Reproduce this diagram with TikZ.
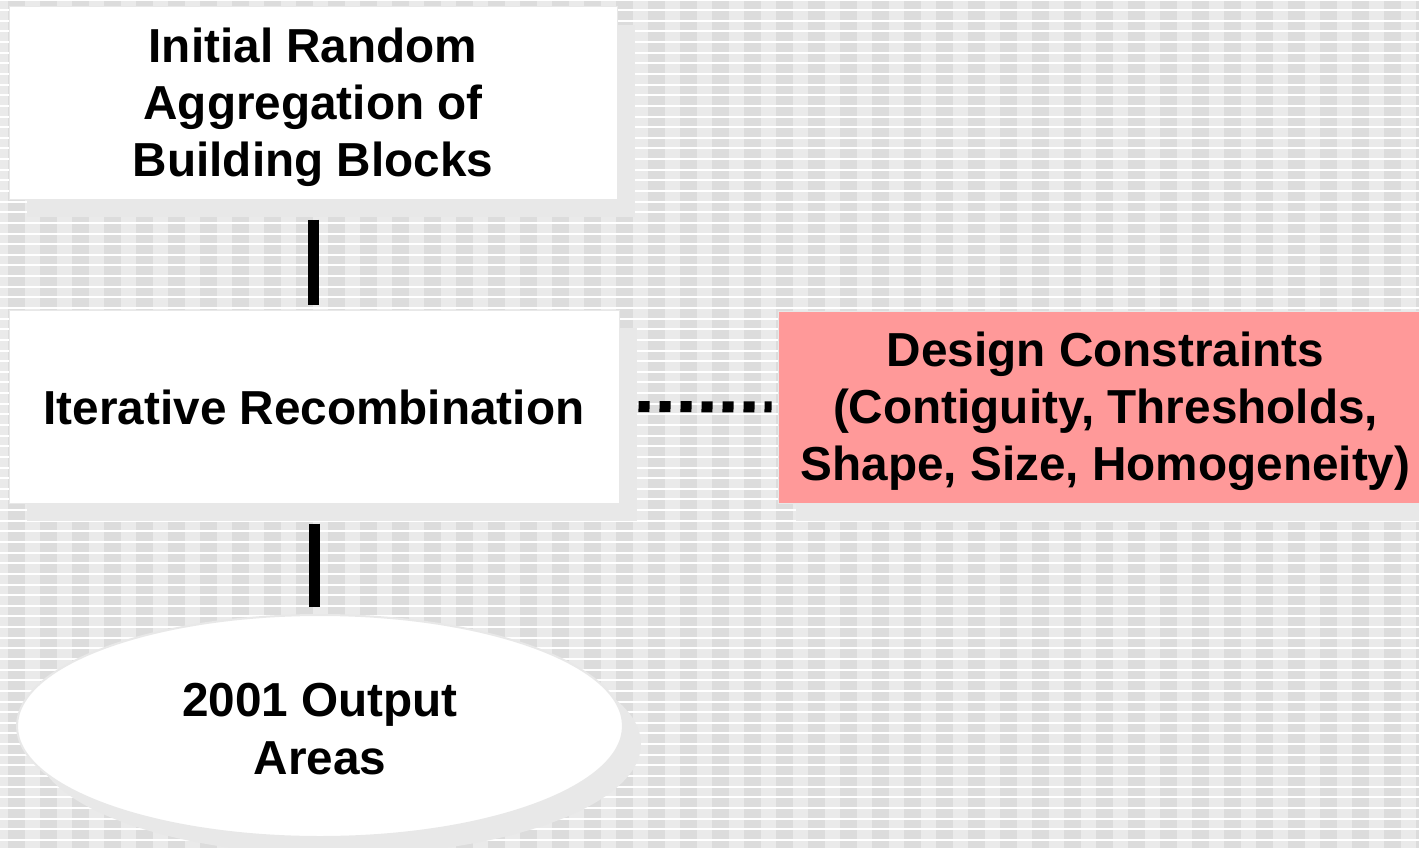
\documentclass[tikz,border=0pt]{standalone}
\usepackage{fontspec}
\setmainfont{Liberation Sans}
\usetikzlibrary{shapes.geometric,shadows}
\definecolor{bglight}{HTML}{EAEAEA}
\definecolor{bgdark}{HTML}{DCDCDC}
\definecolor{shadowgrey}{HTML}{E8E8E8}
\definecolor{pinkbox}{HTML}{FF9999}
\newcommand{\lowerln}[2]{\raisebox{-#1}[\height][\depth]{#2}}
\begin{document}
\begin{tikzpicture}[x=1pt,y=-1pt,
  boxtext/.style={font=\fontsize{47.7}{57.2}\selectfont\bfseries, align=center, text=black},
  shadowed/.style={general shadow={fill=shadowgrey, draw=none, shadow xshift=18pt, shadow yshift=-18pt}},
  box/.style={rectangle, fill=white, draw=shadowgrey, line width=1pt, inner sep=0pt, shadowed, boxtext},
  pinkrect/.style={rectangle, fill=pinkbox, draw=shadowgrey, line width=1pt, inner sep=0pt, shadowed, boxtext},
  oval/.style={ellipse, fill=white, draw=shadowgrey, line width=2pt, inner sep=0pt, shadowed, boxtext},
  conn/.style={line width=11pt, black},
  dotconn/.style={line width=11pt, black, dash pattern=on 11pt off 10pt}]
\useasboundingbox (0,0) rectangle (1419,848);
\clip (0,0) rectangle (1419,848);
% background pattern
\fill[bglight] (0,0) rectangle (1419,848);
\foreach \k in {0,...,44} { \fill[bgdark] ({8+32*\k},0) rectangle ({25+32*\k},848); }
\foreach \k in {0,...,80} { \fill[white] (0,{-1.44+10.636*\k}) rectangle (1419,{0.56+10.636*\k}); }
% nodes
\node[box, minimum width=608pt, minimum height=192pt] (b1) at (313,103)
  {\lowerln{4pt}{Initial Random}\\\lowerln{4pt}{Aggregation of}\\\lowerln{4pt}{Building Blocks}};
\node[box, minimum width=610pt, minimum height=193pt] (b2) at (314,406.5)
  {\lowerln{1pt}{Iterative Recombination}};
\node[pinkrect, minimum width=655pt, minimum height=192pt] (pk) at (1105.5,407)
  {\lowerln{4pt}{Design Constraints}\\\lowerln{4pt}{(Contiguity, Thresholds,}\\\lowerln{4pt}{Shape, Size, Homogeneity)}};
\node[oval, minimum width=606pt, minimum height=222pt] (e) at (320,726)
  {\lowerln{3pt}{2001 Output}\\\lowerln{3pt}{Areas}};
% connectors
\draw[conn, shorten <=20pt, shorten >=5pt] (b1.south) -- (b1.south |- b2.north);
\draw[conn, shorten <=20pt, shorten >=7pt] (b2.south) -- (b2.south |- e.north);
\draw[dotconn, shorten <=19pt, shorten >=6pt] (b2.east) -- (pk.west);
\end{tikzpicture}
\end{document}
